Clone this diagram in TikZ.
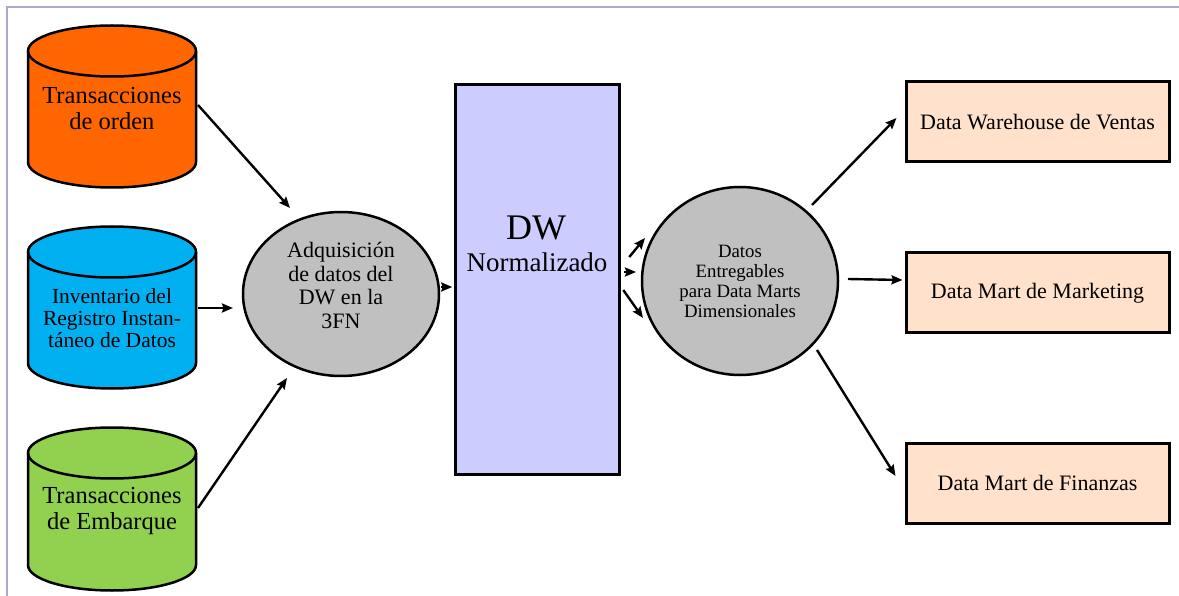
\documentclass[tikz,border=0pt]{standalone}
\usepackage{fontspec}
\setmainfont{Liberation Serif}
\usetikzlibrary{arrows.meta,shapes.geometric}
\pgfdeclarelayer{bg}
\pgfsetlayers{bg,main}

\definecolor{framecol}{HTML}{AAAACC}
\definecolor{ordfill}{HTML}{FF6600}
\definecolor{invfill}{HTML}{00B0F0}
\definecolor{embfill}{HTML}{92D050}
\definecolor{procfill}{HTML}{C0C0C0}
\definecolor{dwfill}{HTML}{CCCCFF}
\definecolor{martfill}{HTML}{FFE1CC}

% database cylinder: #1 centre x, #2 top ellipse y, #3 bottom ellipse y, #4 fill
\newcommand\dbcylinder[4]{%
  \begin{pgfonlayer}{bg}
    \filldraw[fill=#4, line width=2.5pt]
      (#1-84,#2) -- (#1-84,#3)
      arc[start angle=180, end angle=360, x radius=84pt, y radius=25.5pt]
      -- (#1+84,#2)
      arc[start angle=0, end angle=180, x radius=84pt, y radius=25.5pt] -- cycle;
    \draw[line width=2.5pt] (#1-84,#2)
      arc[start angle=180, end angle=360, x radius=84pt, y radius=25.5pt];
  \end{pgfonlayer}}

\begin{document}
\begin{tikzpicture}[x=1pt, y=-1pt,
  arr/.style={line width=2.4pt, -{Stealth[length=11pt, width=9pt, inset=1.5pt]}},
  dbtext/.style={align=center, inner sep=0pt},
  proc/.style={ellipse, draw, fill=procfill, line width=2.5pt, inner sep=0pt, align=center},
  mart/.style={draw, fill=martfill, line width=3pt, minimum width=263pt,
               minimum height=80pt, inner sep=0pt,
               font=\fontsize{22}{24}\selectfont}]

\useasboundingbox (0,0) rectangle (1179,596);
\draw[framecol, line width=2pt] (7,596) -- (7,7) -- (1179,7);

% source databases
\dbcylinder{112}{51}{162}{ordfill}
\dbcylinder{112}{252}{363}{invfill}
\dbcylinder{112}{453}{565}{embfill}

\node[dbtext, font=\fontsize{24.5}{26}\selectfont] (ord) at (112,109) {Transacciones\\de orden};
\node[dbtext, font=\fontsize{21.5}{22}\selectfont] (inv) at (112,318) {Inventario del\\Registro Instan-\\táneo de Datos};
\node[dbtext, font=\fontsize{24.5}{26}\selectfont] (emb) at (112,511) {Transacciones\\de Embarque};

% acquisition process
\node[proc, minimum width=196pt, minimum height=164pt,
      font=\fontsize{22}{23.5}\selectfont] (acq) at (341,294)
  {Adquisición\\de datos del\\DW en la\\3FN\\[-6pt]};

% normalized warehouse
\node[draw, fill=dwfill, line width=2.5pt, minimum width=164pt, minimum height=390pt,
      inner sep=0pt] (dw) at (537.5,279.5) {};
\node[anchor=base, inner sep=0pt, font=\fontsize{36}{36}\selectfont] (dwtitle) at (536,240) {DW};
\node[anchor=base, inner sep=0pt, font=\fontsize{27}{27}\selectfont] (dwsub) at (537,272) {Normalizado};

% delivery process
\node[proc, minimum width=196pt, minimum height=188pt,
      font=\fontsize{18.8}{20}\selectfont] (dc) at (740,281)
  {Datos\\Entregables\\para Data Marts\\Dimensionales};

% target marts
\node[mart] (b1) at (1037.5,122) {Data Warehouse de Ventas};
\node[mart] (b2) at (1037.5,293) {Data Mart de Marketing};
\node[mart] (b3) at (1037.5,483) {Data Mart de Finanzas};

% flows into acquisition
\draw[arr] ([shift={(86,-4)}]ord.center) -- ([shift={(-51,-86)}]acq.center);
\draw[arr] ([shift={(86,-10)}]inv.center) -- ([shift={(-108,14)}]acq.center);
\draw[arr] ([shift={(86,-3)}]emb.center) -- ([shift={(-54,84)}]acq.center);

% acquisition to warehouse
\draw[arr] ([shift={(100,-7)}]acq.center) -- ([shift={(-2,7.5)}]dw.west);

% warehouse to delivery
\draw[arr] ([shift={(8.5,-22.5)}]dw.east) -- ([shift={(-95,-43)}]dc.center);
\draw[arr] ([shift={(3.5,-7.5)}]dw.east) -- ([shift={(-104,-9)}]dc.center);
\draw[arr] ([shift={(2.5,10.5)}]dw.east) -- ([shift={(-97,37)}]dc.center);

% delivery to marts
\draw[arr] ([shift={(72,-76)}]dc.center) -- ([shift={(-8,-4)}]b1.west);
\draw[arr] ([shift={(108,-2)}]dc.center) -- ([shift={(-2,-13)}]b2.west);
\draw[arr] ([shift={(77,69)}]dc.center) -- ([shift={(-9,-7)}]b3.west);

\end{tikzpicture}
\end{document}
